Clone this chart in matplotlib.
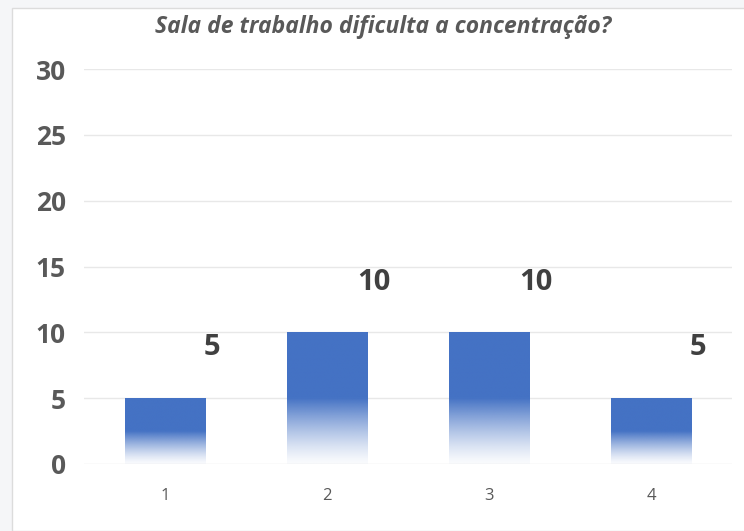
import numpy as np
import matplotlib.pyplot as plt
from matplotlib.patches import Rectangle

# respostas por nível
categories = ['1', '2', '3', '4']
values = [5, 10, 10, 5]
y_ticks = [0, 5, 10, 15, 20, 25, 30]

bar_color = '#4472C4'
text_color = '#595959'

fig = plt.figure(figsize=(7.44, 5.31), dpi=100)
fig.patch.set_facecolor('#f5f6f8')
fig.patches.append(Rectangle((12 / 744, 0), 1, (531 - 8) / 531, transform=fig.transFigure,
                             facecolor='white', edgecolor='#dcdcdc', linewidth=1, zorder=-5))

ax = fig.add_axes([84 / 744, (531 - 464) / 531, (732 - 84) / 744, (464 - 69) / 531])
ax.set_zorder(2)
ax.set_facecolor('none')

x = np.arange(len(categories))
bars = ax.bar(x, values, width=0.5, color='none', edgecolor='none')

# gradiente: sólido em cima, desvanece na metade de baixo
rgb = np.array([0x44, 0x72, 0xC4]) / 255
for bar, v in zip(bars, values):
    t = np.linspace(0, 1, 200)
    alpha = np.clip(0.03 + 0.97 * (t / 0.5) ** 1.3, 0, 1)
    img = np.zeros((200, 1, 4))
    img[:, 0, :3] = rgb
    img[:, 0, 3] = alpha
    ax.imshow(img, extent=[bar.get_x(), bar.get_x() + bar.get_width(), 0, v],
              origin='lower', aspect='auto', zorder=2, interpolation='bilinear')

for xi, v in zip(x, values):
    ax.text(xi + 0.29, v + 3.25, str(v), ha='center', va='baseline',
            fontsize=21, fontweight='bold', color='#404040', family='Open Sans')

ax.set_xlim(-0.5, len(categories) - 0.5)
ax.set_ylim(0, 30)
ax.set_yticks(y_ticks)
ax.set_xticks(x)
ax.set_xticklabels(categories, fontsize=12, color=text_color, family='Open Sans')
for lbl in ax.get_yticklabels():
    lbl.set_fontsize(19)
    lbl.set_fontweight('bold')
    lbl.set_color(text_color)
    lbl.set_family('Open Sans')
ax.tick_params(axis='y', length=0, pad=13)
ax.tick_params(axis='x', length=0, pad=17)
ax.grid(axis='y', color='#e8e8e8', linewidth=1, zorder=0)
ax.set_axisbelow(True)
for s in ax.spines.values():
    s.set_visible(False)

fig.text(383 / 744, (531 - 27) / 531, 'Sala de trabalho dificulta a concentração?',
         ha='center', va='center', fontsize=16.5, fontweight='bold', style='italic',
         color=text_color, family='Open Sans')

fig.savefig('out.png', dpi=100)
